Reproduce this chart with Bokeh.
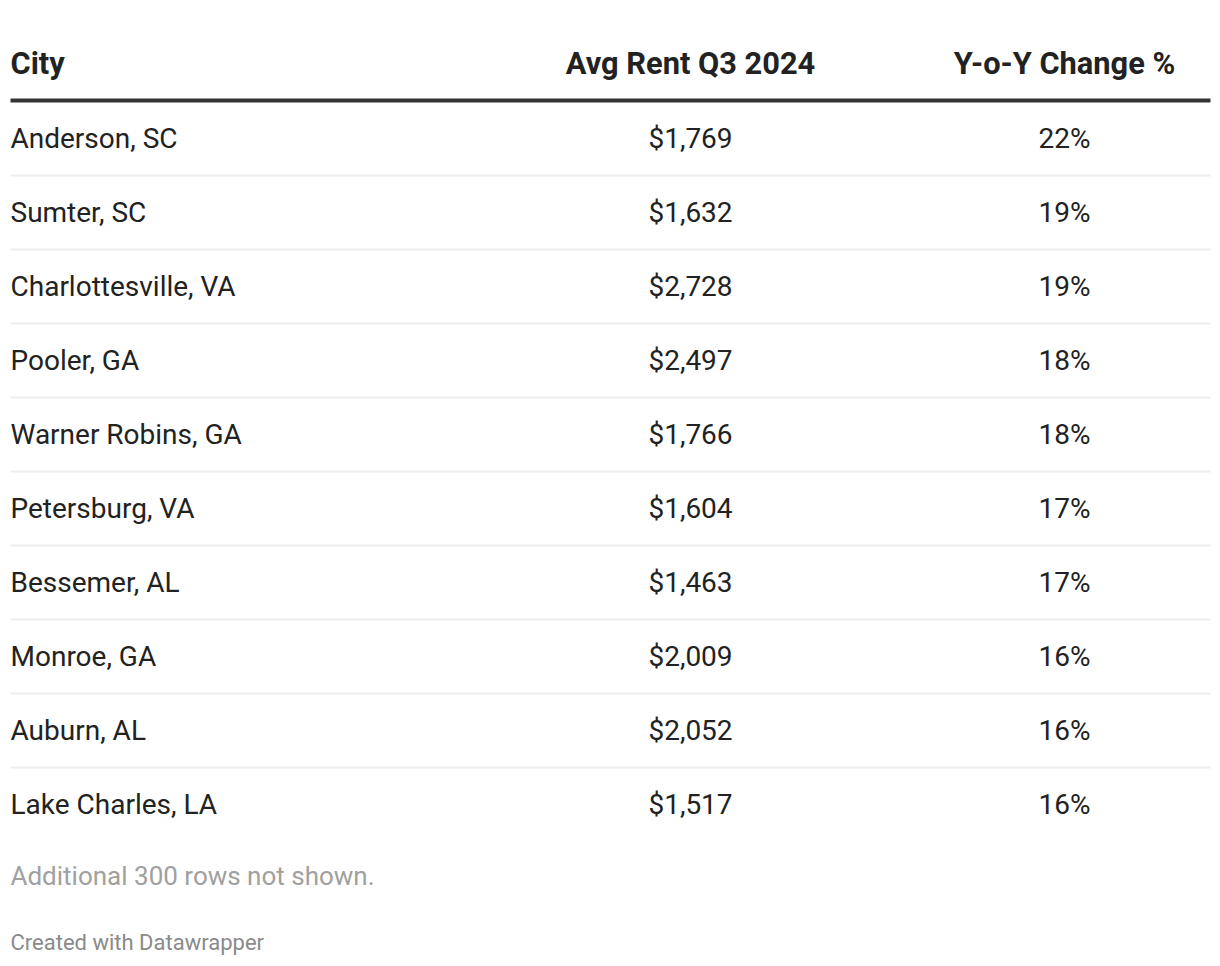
from bokeh.plotting import figure
from bokeh.models import ColumnDataSource, Range1d
from bokeh.core.properties import value
from bokeh.embed import file_html
from bokeh.resources import INLINE

headers = ["City", "Avg Rent Q3 2024", "Y-o-Y Change %"]
cities = ["Anderson, SC", "Sumter, SC", "Charlottesville, VA", "Pooler, GA",
          "Warner Robins, GA", "Petersburg, VA", "Bessemer, AL", "Monroe, GA",
          "Auburn, AL", "Lake Charles, LA"]
rents = [1769, 1632, 2728, 2497, 1766, 1604, 1463, 2009, 2052, 1517]
changes = [22, 19, 19, 18, 18, 17, 17, 16, 16, 16]
note = "Additional 300 rows not shown."
credit = "Created with Datawrapper"

W, H = 1220, 966

p = figure(width=W, height=H, output_backend="svg", toolbar_location=None,
           x_range=Range1d(0, W), y_range=Range1d(H, 0), min_border=0)
p.axis.visible = False
p.grid.visible = False
p.outline_line_color = None
p.background_fill_color = "white"
p.border_fill_color = "white"

FONT = value("Roboto")
col_x = [10, 690, 1064]
col_align = ["left", "center", "center"]

# header
for h, x, a in zip(headers, col_x, col_align):
    p.text(x=[x], y=[63], text=[h], text_font=FONT, text_font_size="30.8px",
           text_font_style="bold", text_color="#222222", text_align=a,
           text_baseline="middle")

# header rule
p.segment(x0=[10], x1=[1210], y0=[100], y1=[100],
          line_color="#333333", line_width=4)

n = len(cities)
ys = [138 + 74 * i for i in range(n)]
src = ColumnDataSource(dict(
    city=cities,
    rent=["${:,}".format(r) for r in rents],
    chg=["{}%".format(c) for c in changes],
    y=ys,
))
for field, x, a in zip(["city", "rent", "chg"], col_x, col_align):
    p.text(x=x, y="y", text=field, source=src, text_font=FONT,
           text_font_size="28px", text_color="#222222", text_align=a,
           text_baseline="middle")

# row separators
sep_y = [175 + 74 * i for i in range(n - 1)]
p.segment(x0=[10] * len(sep_y), x1=[1210] * len(sep_y),
          y0=sep_y, y1=sep_y, line_color="#eeeeee", line_width=2)

p.text(x=[10], y=[875], text=[note], text_font=FONT,
       text_font_size="26px", text_color="#a0a0a0", text_align="left",
       text_baseline="middle")
p.text(x=[10], y=[942], text=[credit], text_font=FONT,
       text_font_size="22px", text_color="#8a8a8a", text_align="left",
       text_baseline="middle")

open("out.html", "w").write(file_html(p, INLINE))
